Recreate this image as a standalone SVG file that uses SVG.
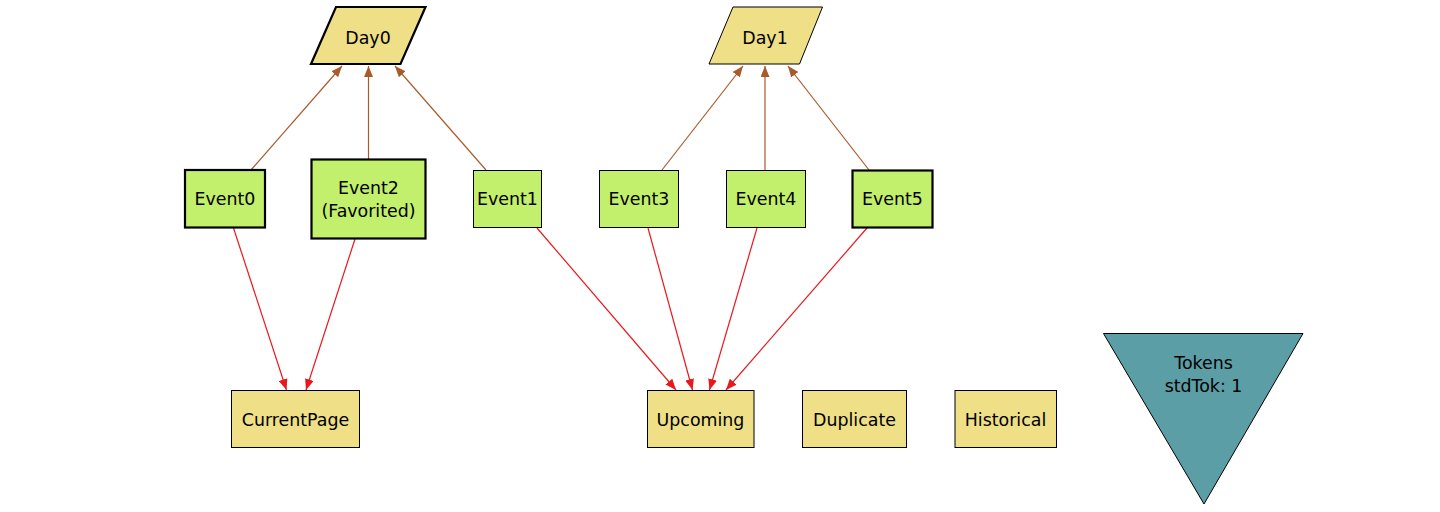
<svg xmlns="http://www.w3.org/2000/svg" width="1440" height="512" viewBox="0 0 1440 512">
<defs>
<style>
.t{font-family:"DejaVu Sans",sans-serif;font-size:17.4px;fill:#000;text-anchor:middle}
.ev{fill:#c2ef6c;stroke:#000;stroke-width:1}
.evb{fill:#c2ef6c;stroke:#000;stroke-width:2.2}
.st{fill:#efdf87;stroke:#000;stroke-width:1}
.stb{fill:#efdf87;stroke:#000;stroke-width:2.2}
.br{stroke:#a85a2a;stroke-width:1.2;fill:none}
.rd{stroke:#e8181c;stroke-width:1.2;fill:none}
</style>
<marker id="ab" viewBox="0 0 11 9" refX="11" refY="4.5" markerWidth="11" markerHeight="9" markerUnits="userSpaceOnUse" orient="auto"><path d="M0,0L11,4.5L0,9z" fill="#a85a2a"/></marker>
<marker id="ar" viewBox="0 0 11 9" refX="11" refY="4.5" markerWidth="11" markerHeight="9" markerUnits="userSpaceOnUse" orient="auto"><path d="M0,0L11,4.5L0,9z" fill="#e8181c"/></marker>
</defs>
<rect width="1440" height="512" fill="#fff"/>
<g id="connectors">
<line class="br" x1="251" y1="170" x2="342" y2="66" marker-end="url(#ab)"/>
<line class="br" x1="368.5" y1="159" x2="368.5" y2="66" marker-end="url(#ab)"/>
<line class="br" x1="486" y1="170" x2="395" y2="66" marker-end="url(#ab)"/>
<line class="br" x1="662" y1="170" x2="743" y2="66" marker-end="url(#ab)"/>
<line class="br" x1="765" y1="170" x2="765" y2="66" marker-end="url(#ab)"/>
<line class="br" x1="869" y1="170" x2="788" y2="66" marker-end="url(#ab)"/>
<line class="rd" x1="233.5" y1="228" x2="286.5" y2="390" marker-end="url(#ar)"/>
<line class="rd" x1="355" y1="239" x2="306" y2="390" marker-end="url(#ar)"/>
<line class="rd" x1="537" y1="228" x2="676" y2="390" marker-end="url(#ar)"/>
<line class="rd" x1="648" y1="228" x2="692.5" y2="390" marker-end="url(#ar)"/>
<line class="rd" x1="757" y1="228" x2="709.5" y2="390" marker-end="url(#ar)"/>
<line class="rd" x1="867" y1="228" x2="726" y2="390" marker-end="url(#ar)"/>
</g>
<g id="Day0"><polygon class="stb" points="336,7 425.5,7 400.5,64 311,64"/><text class="t" x="368" y="44">Day0</text></g>
<g id="Day1"><polygon class="st" points="733,7 822.5,7 799.5,64 709,64"/><text class="t" x="765" y="44">Day1</text></g>
<g id="Event0"><rect class="evb" x="185" y="170" width="80" height="57.5"/><text class="t" x="225" y="205">Event0</text></g>
<g id="Event2"><rect class="evb" x="311.5" y="159.5" width="114" height="79"/><text class="t" x="368.5" y="194">Event2</text><text class="t" x="368.5" y="217">(Favorited)</text></g>
<g id="Event1"><rect class="ev" x="473.5" y="170.5" width="68" height="57"/><text class="t" x="507.5" y="205">Event1</text></g>
<g id="Event3"><rect class="ev" x="599.5" y="170.5" width="79" height="57"/><text class="t" x="639" y="205">Event3</text></g>
<g id="Event4"><rect class="ev" x="726.5" y="170.5" width="79" height="57"/><text class="t" x="766" y="205">Event4</text></g>
<g id="Event5"><rect class="evb" x="852.5" y="170.5" width="80" height="57"/><text class="t" x="892.5" y="205">Event5</text></g>
<g id="CurrentPage"><rect class="st" x="231.5" y="390.5" width="128" height="57"/><text class="t" x="295.5" y="426">CurrentPage</text></g>
<g id="Upcoming"><rect class="st" x="647.5" y="390.5" width="106.5" height="57"/><text class="t" x="700.5" y="426">Upcoming</text></g>
<g id="Duplicate"><rect class="st" x="802.5" y="390.5" width="104" height="57"/><text class="t" x="854.5" y="426">Duplicate</text></g>
<g id="Historical"><rect class="st" x="955" y="390.5" width="101.5" height="57"/><text class="t" x="1005.5" y="426">Historical</text></g>
<g id="Tokens"><polygon points="1103.5,333.5 1303,333.5 1204,504" fill="#5b9ea5" stroke="#000" stroke-width="1"/><text class="t" x="1203.5" y="369">Tokens</text><text class="t" x="1203.5" y="392">stdTok: 1</text></g>
</svg>
